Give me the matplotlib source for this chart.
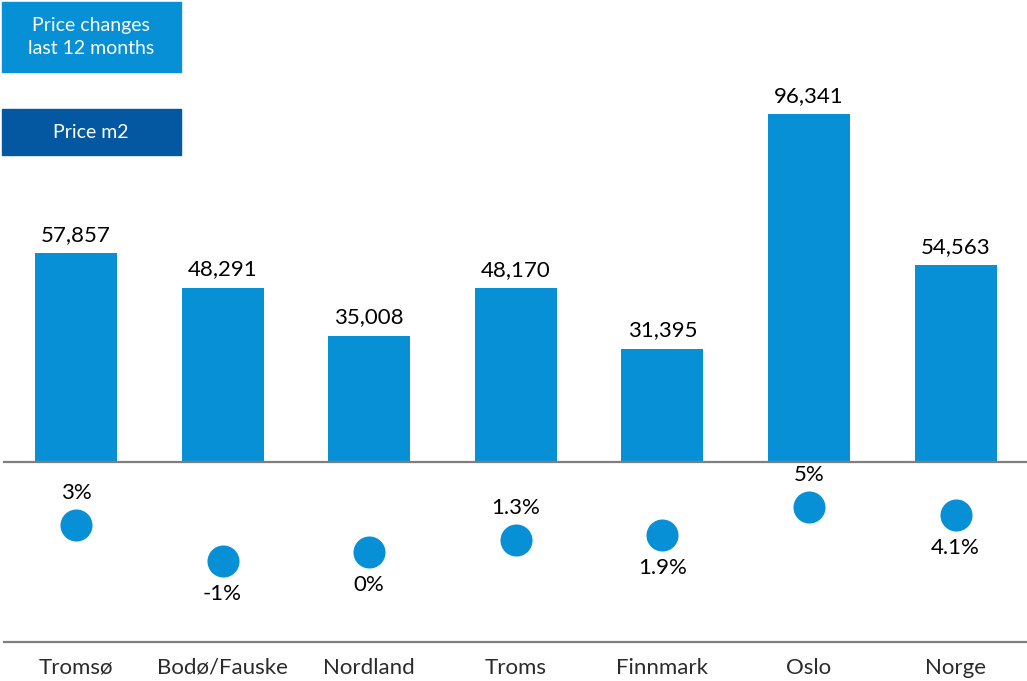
import matplotlib
matplotlib.use('Agg')
import matplotlib.pyplot as plt
from matplotlib.patches import Rectangle

plt.rcParams['font.family'] = ['Lato', 'DejaVu Sans']

regions = ['Tromsø', 'Bodø/Fauske', 'Nordland', 'Troms', 'Finnmark', 'Oslo', 'Norge']
price_m2 = [57857, 48291, 35008, 48170, 31395, 96341, 54563]
change_12m = [3, -1, 0, 1.3, 1.9, 5, 4.1]
change_labels = ['3%', '-1%', '0%', '1.3%', '1.9%', '5%', '4.1%']
label_above = [True, False, False, True, False, True, False]

BLUE = '#0790D6'
DARK_BLUE = '#0458A2'
GREY = '#7F7F7F'

W, H = 1027, 681
fig = plt.figure(figsize=(W / 100, H / 100), dpi=100)

x = range(len(regions))
xlim = (-0.518, 6.487)

# Upper panel: price per m2 bars
ax_bar = fig.add_axes([0, (H - 462) / H, 1, 462 / H])
ax_bar.bar(x, price_m2, width=0.56, color=BLUE)
for i, v in zip(x, price_m2):
    ax_bar.text(i, v + 2300, f'{v:,}', ha='center', va='bottom', fontsize=16, color='black')
ax_bar.set_xlim(*xlim)
ax_bar.set_ylim(0, 127900)
ax_bar.axis('off')

# Lower panel: price change dots
ax_dot = fig.add_axes([0, (H - 642) / H, 1, 180 / H])
ax_dot.scatter(x, change_12m, s=32 ** 2 * 0.52, color=BLUE, zorder=3, linewidths=0)
for i, v, lab, above in zip(x, change_12m, change_labels, label_above):
    off = 3.6 if above else -3.7
    ax_dot.text(i, v + off, lab, ha='center', va='center', fontsize=16, color='black')
ax_dot.set_xlim(*xlim)
ax_dot.set_ylim(-10, 10)
ax_dot.axis('off')

# Separator lines
fig.add_artist(plt.Line2D([4 / W, 1], [(H - 462) / H] * 2, color=GREY, lw=1.6))
fig.add_artist(plt.Line2D([4 / W, 1], [(H - 642) / H] * 2, color=GREY, lw=1.6))

# Category labels
for i, name in zip(x, regions):
    xf = (76 + 146.6 * i) / W
    fig.text(xf, (H - 668) / H, name, ha='center', va='center', fontsize=16, color='#2b2b2b')

# Legend boxes
fig.add_artist(Rectangle((2 / W, (H - 72) / H), 179 / W, 70 / H, color=BLUE, transform=fig.transFigure))
fig.text(91 / W, (H - 37) / H, 'Price changes\nlast 12 months', ha='center', va='center',
         fontsize=14, color='white', linespacing=1.45)
fig.add_artist(Rectangle((2 / W, (H - 155) / H), 179 / W, 46 / H, color=DARK_BLUE, transform=fig.transFigure))
fig.text(91 / W, (H - 132) / H, 'Price m2', ha='center', va='center', fontsize=14, color='white')

fig.savefig('out.png', dpi=100)
